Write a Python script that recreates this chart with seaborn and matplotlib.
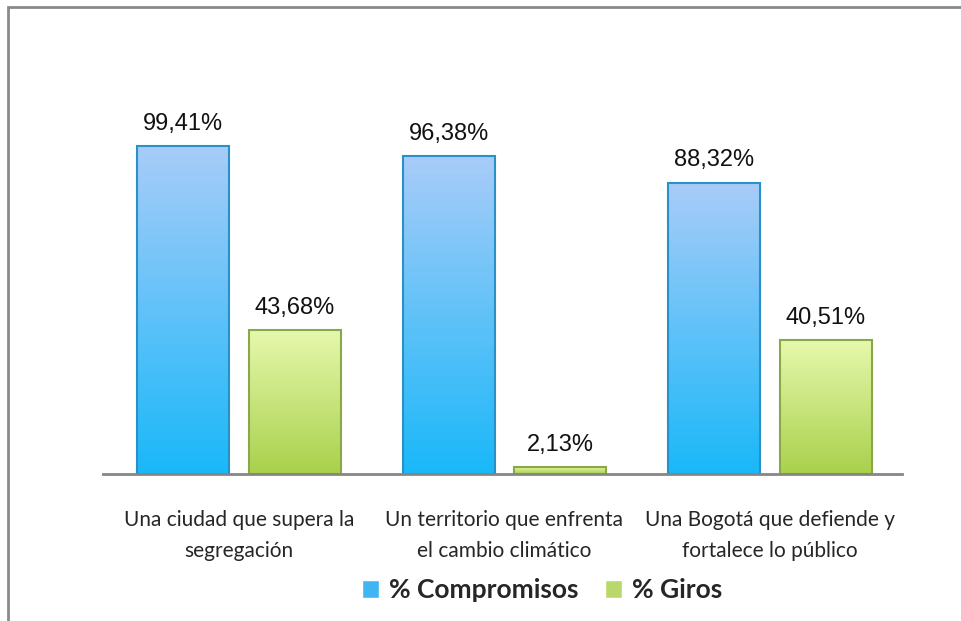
import matplotlib
matplotlib.use("Agg")
import matplotlib.pyplot as plt
import matplotlib.patches as mpatches
import numpy as np
import pandas as pd
import seaborn as sns

# --- data ---
categories = [
    "Una ciudad que supera la\nsegregación",
    "Un territorio que enfrenta\nel cambio climático",
    "Una Bogotá que defiende y\nfortalece lo público",
]
compromisos = [99.41, 96.38, 88.32]
giros = [43.68, 2.13, 40.51]
series_names = ["% Compromisos", "% Giros"]

df = pd.DataFrame({
    "categoria": categories * 2,
    "serie": [series_names[0]] * 3 + [series_names[1]] * 3,
    "valor": compromisos + giros,
})

BLUE = "#3fb6f2"
GREEN = "#b8d96a"
# gradient end colours (top -> bottom)
GRAD = {
    BLUE: ("#a8ccf9", "#1ab8f8"),
    GREEN: ("#e6f8ac", "#a9d14c"),
}
EDGE = {BLUE: "#2a90c8", GREEN: "#8aa84a"}

sns.set_theme(style="white")
plt.rcParams["font.family"] = ["Liberation Sans", "DejaVu Sans"]

fig = plt.figure(figsize=(9.61, 6.21), dpi=100)
ax = fig.add_axes([103 / 961, 147 / 621, 799 / 961, 396 / 621])

sns.barplot(
    data=df, x="categoria", y="valor", hue="serie",
    palette=[BLUE, GREEN], width=0.84, gap=0.175,
    ax=ax, legend=True, saturation=1,
)

# vertical gradient fill inside each bar, clipped to the bar shape
for patch in ax.patches:
    w, h = patch.get_width(), patch.get_height()
    if h <= 0:
        continue
    fc = np.array(matplotlib.colors.to_rgb(patch.get_facecolor()))
    key = min(GRAD, key=lambda c: np.abs(np.array(matplotlib.colors.to_rgb(c)) - fc).sum())
    top, bot = GRAD[key]
    cmap = matplotlib.colors.LinearSegmentedColormap.from_list("g", [bot, top])
    x0, y0 = patch.get_x(), patch.get_y()
    grad = np.linspace(0, 1, 100).reshape(-1, 1)
    im = ax.imshow(grad, extent=[x0, x0 + w, y0, y0 + h], origin="lower",
                   cmap=cmap, aspect="auto", zorder=patch.get_zorder() + 0.1)
    im.set_clip_path(patch)
    ax.add_patch(mpatches.Rectangle((x0, y0), w, h, fill=False,
                                    edgecolor=EDGE[key], linewidth=1.5,
                                    zorder=patch.get_zorder() + 0.2))

# value labels
for cont in ax.containers:
    ax.bar_label(cont, labels=[f"{v:.2f}%".replace(".", ",") for v in cont.datavalues],
                 padding=8, fontsize=17, color="#111111")

ax.set_xlim(-0.512, 2.497)
ax.set_ylim(0, 120)
ax.set_xlabel("")
ax.set_ylabel("")
ax.set_yticks([])
ax.tick_params(axis="x", length=0, pad=26)
ax.set_xticks(range(3))
ax.set_xticklabels(categories, fontsize=15, family=["Lato", "DejaVu Sans"],
                   linespacing=1.67)
for side in ["top", "right", "left"]:
    ax.spines[side].set_visible(False)
ax.spines["bottom"].set_color("#868686")
ax.spines["bottom"].set_linewidth(2)
ax.set_facecolor("none")

handles, labels = ax.get_legend_handles_labels()
ax.legend_.remove()
fig.legend(handles, labels, loc="center", bbox_to_anchor=(542 / 961, 1 - 590 / 621),
           ncol=2, frameon=False, handlelength=0.65, handleheight=0.65,
           handletextpad=0.38, columnspacing=1.0,
           prop={"family": ["Lato", "DejaVu Sans"], "weight": "bold", "size": 19})

# outer chart frame (top and left edges visible)
fig.patches.append(mpatches.Rectangle(
    (8 / 961, -0.1), 1.2, 1 - 7 / 621 + 0.1, transform=fig.transFigure,
    fill=False, edgecolor="#8a8a8a", linewidth=2))

fig.savefig("out.png", dpi=100)
